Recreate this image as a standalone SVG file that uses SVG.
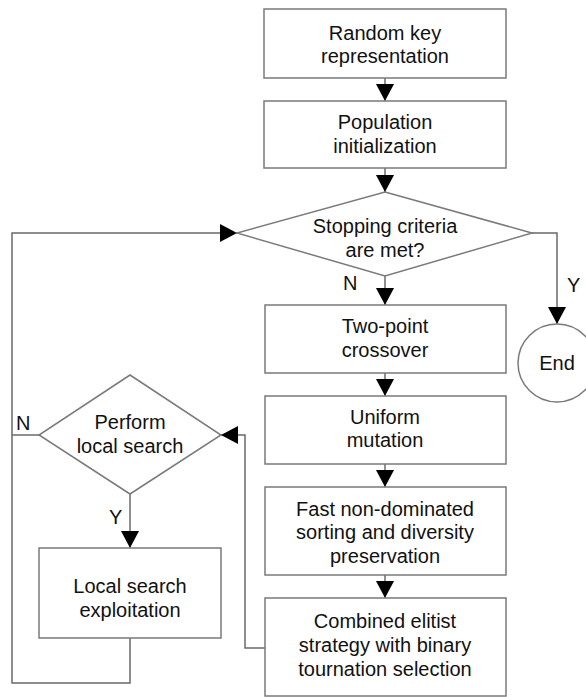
<svg xmlns="http://www.w3.org/2000/svg" width="586" height="697" viewBox="0 0 586 697">
<style>
.n{fill:#fff;stroke:#7a7a7a;stroke-width:1.5}
.c{fill:none;stroke:#6a6a6a;stroke-width:1.5}
text{font-family:"Liberation Sans",Arial,sans-serif;font-size:20px;fill:#111;text-anchor:middle}
.l{text-anchor:start}
</style>
<defs>
<marker id="ah" viewBox="0 0 17 18" refX="17" refY="9" markerWidth="17" markerHeight="18" markerUnits="userSpaceOnUse" orient="auto">
<path d="M0,0 L17,9 L0,18 z" fill="#000"/>
</marker>
</defs>
<rect width="586" height="697" fill="#fff"/>
<g id="connectors">
<path class="c" d="M385,78 V101" marker-end="url(#ah)"/>
<path class="c" d="M385,168 V192" marker-end="url(#ah)"/>
<path class="c" d="M385,276 V305" marker-end="url(#ah)"/>
<path class="c" d="M385,373 V396" marker-end="url(#ah)"/>
<path class="c" d="M385,464 V487" marker-end="url(#ah)"/>
<path class="c" d="M385,575 V598" marker-end="url(#ah)"/>
<path class="c" d="M532,233 H557 V324" marker-end="url(#ah)"/>
<path class="c" d="M130,638 V683 H12 V233 H237" marker-end="url(#ah)"/>
<path class="c" d="M39,435 H12"/>
<path class="c" d="M265,648 H245 V435 H221" marker-end="url(#ah)"/>
<path class="c" d="M130,494 V548" marker-end="url(#ah)"/>
<text class="l" x="343" y="290">N</text>
<text class="l" x="567" y="292">Y</text>
<text class="l" x="16" y="430">N</text>
<text class="l" x="109" y="524">Y</text>
</g>
<g id="random-key">
<rect class="n" x="264" y="9" width="242" height="69"/>
<text x="385" y="40">Random key</text>
<text x="385" y="63">representation</text>
</g>
<g id="population">
<rect class="n" x="264" y="101" width="242" height="67"/>
<text x="385" y="129">Population</text>
<text x="385" y="153">initialization</text>
</g>
<g id="stopping">
<polygon class="n" points="385,192 532,233 385,276 237,233"/>
<text x="385" y="233">Stopping criteria</text>
<text x="385" y="257">are met?</text>
</g>
<g id="end">
<circle class="n" cx="557" cy="363" r="39"/>
<text x="557" y="370">End</text>
</g>
<g id="crossover">
<rect class="n" x="265" y="305" width="241" height="68"/>
<text x="385" y="333">Two-point</text>
<text x="385" y="357">crossover</text>
</g>
<g id="mutation">
<rect class="n" x="265" y="396" width="241" height="68"/>
<text x="385" y="424">Uniform</text>
<text x="385" y="447">mutation</text>
</g>
<g id="sorting">
<rect class="n" x="265" y="487" width="241" height="88"/>
<text x="385" y="516">Fast non-dominated</text>
<text x="385" y="539">sorting and diversity</text>
<text x="385" y="563">preservation</text>
</g>
<g id="elitist">
<rect class="n" x="265" y="598" width="241" height="98"/>
<text x="385" y="628">Combined elitist</text>
<text x="385" y="652">strategy with binary</text>
<text x="385" y="676">tournation selection</text>
</g>
<g id="local-decision">
<polygon class="n" points="130,375 221,435 130,494 39,435"/>
<text x="130" y="429">Perform</text>
<text x="130" y="453">local search</text>
</g>
<g id="local-search">
<rect class="n" x="39" y="548" width="182" height="90"/>
<text x="130" y="593">Local search</text>
<text x="130" y="617">exploitation</text>
</g>
</svg>
